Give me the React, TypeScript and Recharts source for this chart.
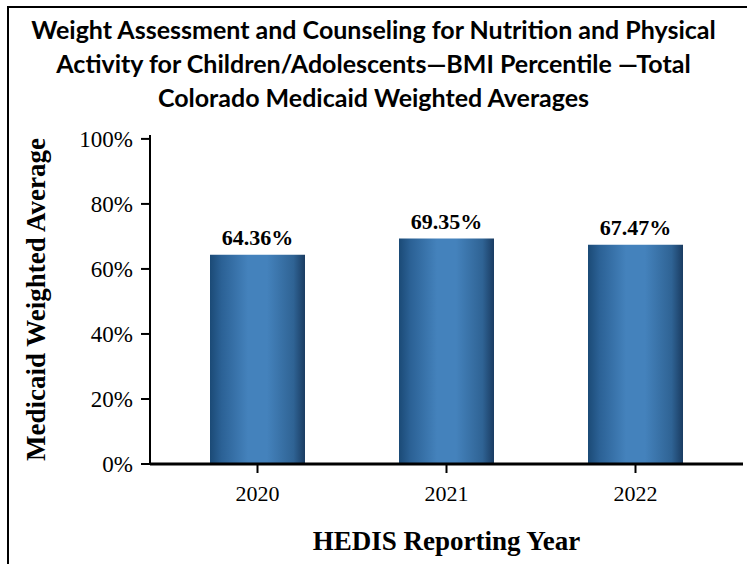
import { BarChart, Bar, XAxis, YAxis, LabelList } from 'recharts'

const years = ['2020', '2021', '2022']
const averages = [64.36, 69.35, 67.47]
const yTicks = [0, 20, 40, 60, 80, 100]

const titleLines = [
  'Weight Assessment and Counseling for Nutrition and Physical',
  'Activity for Children/Adolescents\u2014BMI Percentile \u2014Total',
  'Colorado Medicaid Weighted Averages',
]

const data = years.map((year, i) => ({ year, value: averages[i] }))

const SERIF = '"Liberation Serif", "Times New Roman", serif'

export default function App() {
  return (
    <div style={{ position: 'absolute', left: 0, top: 0, width: 747, height: 564, background: '#fff', overflow: 'hidden' }}>
      <div style={{ position: 'absolute', left: 7, top: 6, width: 740, height: 560, borderTop: '2px solid #000', borderLeft: '2px solid #000' }} />
      <div style={{ position: 'absolute', left: 0, top: 12, width: 747, textAlign: 'center', fontFamily: 'Lato, "Open Sans", sans-serif', fontWeight: 700, fontSize: 25, lineHeight: '34px', color: '#000' }}>
        {titleLines.map((t) => (
          <div key={t}>{t}</div>
        ))}
      </div>
      <div style={{ position: 'absolute', left: 0, top: 0 }}>
        <BarChart width={747} height={564} data={data} margin={{ top: 135, right: 4, bottom: 40, left: 70 }}>
          <defs>
            <linearGradient id="barGrad" x1="0" y1="0" x2="1" y2="0">
              <stop offset="0%" stopColor="#1b4a76" />
              <stop offset="12%" stopColor="#2b6195" />
              <stop offset="40%" stopColor="#4482bc" />
              <stop offset="60%" stopColor="#4482bc" />
              <stop offset="88%" stopColor="#2f6394" />
              <stop offset="100%" stopColor="#1a3c62" />
            </linearGradient>
          </defs>
          <XAxis
            dataKey="year"
            padding={{ left: 13, right: 13 }}
            axisLine={{ stroke: '#000', strokeWidth: 3 }}
            tickLine={{ stroke: '#000', strokeWidth: 2 }}
            tickSize={9}
            tick={{ fill: '#000', fontSize: 22, fontFamily: SERIF, dy: 10 }}
            height={60}
            label={{ value: 'HEDIS Reporting Year', position: 'insideBottom', offset: -26, fill: '#000', fontSize: 27, fontWeight: 700, fontFamily: SERIF }}
          />
          <XAxis xAxisId="top" orientation="top" dataKey="year" height={0} tick={false} tickLine={false} axisLine={{ stroke: '#000', strokeWidth: 2 }} />
          <YAxis
            domain={[0, 101.2]}
            ticks={yTicks}
            allowDataOverflow
            width={80}
            axisLine={{ stroke: '#000', strokeWidth: 2 }}
            tickLine={{ stroke: '#000', strokeWidth: 2 }}
            tickSize={9}
            tickFormatter={(v: number) => `${v}%`}
            tick={{ fill: '#000', fontSize: 23, fontFamily: SERIF, dx: -6 }}
            label={{ value: 'Medicaid Weighted Average', angle: -90, position: 'insideLeft', offset: -35, fill: '#000', fontSize: 27, fontWeight: 700, fontFamily: SERIF, style: { textAnchor: 'middle' } }}
          />
          <YAxis yAxisId="right" orientation="right" width={0} domain={[0, 101.2]} tick={false} tickLine={false} axisLine={{ stroke: '#000', strokeWidth: 2 }} />
          <Bar dataKey="value" fill="url(#barGrad)" barSize={95} isAnimationActive={false}>
            <LabelList
              dataKey="value"
              position="top"
              offset={10}
              formatter={(v: number) => `${v.toFixed(2)}%`}
              style={{ fill: '#000', fontSize: 22, fontWeight: 700, fontFamily: SERIF }}
            />
          </Bar>
        </BarChart>
      </div>
    </div>
  )
}
